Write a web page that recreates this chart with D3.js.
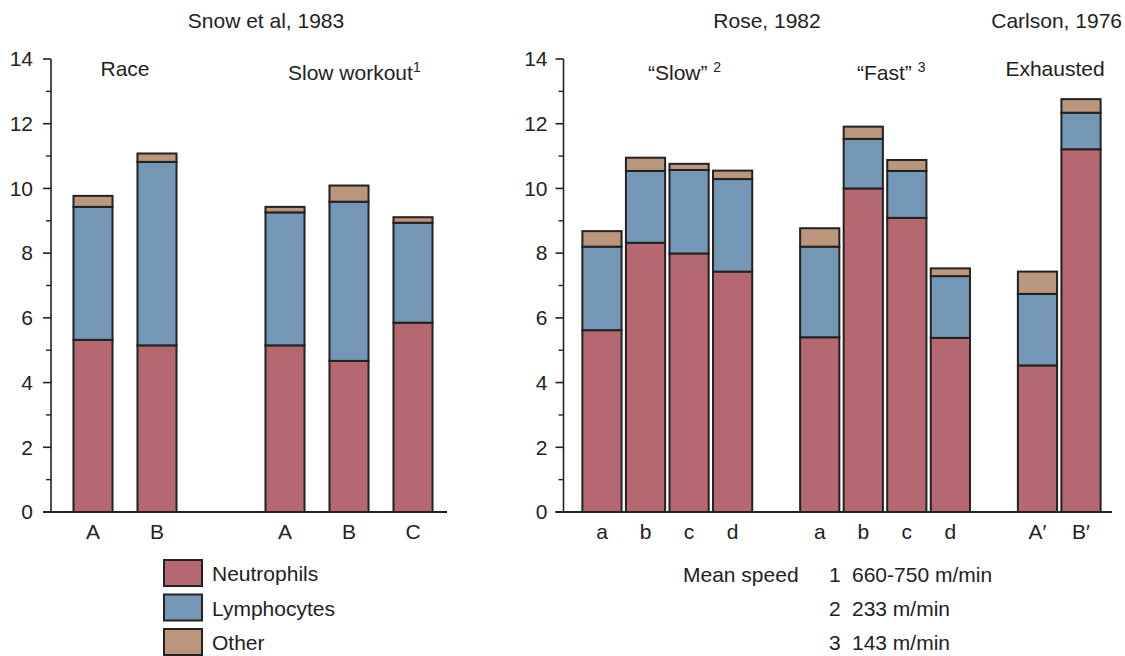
<!DOCTYPE html>
<html>
<head>
<meta charset="utf-8">
<script src="https://cdn.jsdelivr.net/npm/d3@7"></script>
<style>
  html, body { margin: 0; padding: 0; background: #fff; }
  svg { display: block; font-family: "Liberation Sans", Arial, Helvetica, sans-serif; }
</style>
</head>
<body>
<svg id="chart" width="1125" height="656"></svg>
<script>
// Leukocyte counts (x10^3 / µL) split by cell type
const seriesKeys = ["Neutrophils", "Lymphocytes", "Other"];
const seriesColors = ["#b66870", "#7497b6", "#ba967c"];

// Snow et al, 1983
const leftCategories = ["Race A", "Race B", "gap", "Slow A", "Slow B", "Slow C"];
const leftTickLabels = ["A", "B", "", "A", "B", "C"];
const leftNeutrophils = [5.32, 5.15, null, 5.15, 4.67, 5.85];
const leftLymphocytes = [4.11, 5.67, null, 4.11, 4.92, 3.09];
const leftOther       = [0.34, 0.26, null, 0.17, 0.50, 0.17];

// Rose, 1982 and Carlson, 1976
const rightCategories = ["S a", "S b", "S c", "S d", "gap1", "F a", "F b", "F c", "F d", "gap2", "E A", "E B"];
const rightTickLabels = ["a", "b", "c", "d", "", "a", "b", "c", "d", "", "A\u2032", "B\u2032"];
const rightNeutrophils = [5.62, 8.32, 7.99, 7.43, null, 5.40, 10.00, 9.09, 5.38, null, 4.53, 11.21];
const rightLymphocytes = [2.58, 2.22, 2.58, 2.86, null, 2.80, 1.53, 1.45, 1.91, null, 2.21, 1.13];
const rightOther       = [0.48, 0.41, 0.19, 0.26, null, 0.57, 0.38, 0.34, 0.24, null, 0.69, 0.42];

const yTicks = [0, 2, 4, 6, 8, 10, 12, 14];
const yMinorTicks = [1, 3, 5, 7, 9, 11, 13];

const svg = d3.select("#chart");
const ink = "#222";
const fontSize = 21;

const y = d3.scaleLinear().domain([0, 14]).range([512, 59]);
const color = d3.scaleOrdinal().domain(seriesKeys).range(seriesColors);

function buildRows(cats, n, l, o) {
  return cats.map((c, i) => ({ key: c, Neutrophils: n[i], Lymphocytes: l[i], Other: o[i] }))
             .filter(r => r.Neutrophils != null);
}

function panel(opts) {
  const g = svg.append("g");
  const x = d3.scaleBand()
    .domain(opts.categories)
    .range(opts.range)
    .paddingInner(opts.padding)
    .paddingOuter(opts.padding / 2);

  const rows = buildRows(opts.categories, opts.n, opts.l, opts.o);
  const stacked = d3.stack().keys(seriesKeys)(rows);

  // stacked bars
  stacked.forEach(layer => {
    g.append("g")
      .selectAll("rect")
      .data(layer)
      .join("rect")
      .attr("x", d => x(d.data.key))
      .attr("width", x.bandwidth())
      .attr("y", d => y(d[1]))
      .attr("height", d => y(d[0]) - y(d[1]))
      .attr("fill", color(layer.key))
      .attr("stroke", ink)
      .attr("stroke-width", 2);
  });

  // y axis with major and minor ticks
  const yAxis = g.append("g").attr("transform", `translate(${opts.axisX},0)`);
  yAxis.append("line")
    .attr("y1", y(0)).attr("y2", y(14))
    .attr("stroke", ink).attr("stroke-width", 1.6);
  yAxis.selectAll(".major").data(yTicks).join("line")
    .attr("x1", -8).attr("x2", 0)
    .attr("y1", d => y(d)).attr("y2", d => y(d))
    .attr("stroke", ink).attr("stroke-width", 1.6);
  yAxis.selectAll(".minor").data(yMinorTicks).join("line")
    .attr("x1", -5).attr("x2", 0)
    .attr("y1", d => y(d)).attr("y2", d => y(d))
    .attr("stroke", ink).attr("stroke-width", 1.4);
  yAxis.selectAll("text").data(yTicks).join("text")
    .attr("x", opts.labelOffset)
    .attr("y", d => y(d))
    .attr("dy", "0.35em")
    .attr("text-anchor", "end")
    .attr("font-size", fontSize)
    .attr("fill", ink)
    .text(d => d);

  // baseline
  g.append("line")
    .attr("x1", opts.axisX - 8).attr("x2", opts.baseEnd)
    .attr("y1", y(0)).attr("y2", y(0))
    .attr("stroke", ink).attr("stroke-width", 2.2);

  // category labels
  g.selectAll(".cat").data(opts.categories.map((c, i) => ({ c, t: opts.tickLabels[i] })).filter(d => d.t))
    .join("text")
    .attr("x", d => x(d.c) + x.bandwidth() / 2)
    .attr("y", 539)
    .attr("text-anchor", "middle")
    .attr("font-size", fontSize)
    .attr("fill", ink)
    .text(d => d.t);
  return g;
}

panel({
  categories: leftCategories, tickLabels: leftTickLabels,
  n: leftNeutrophils, l: leftLymphocytes, o: leftOther,
  range: [61, 445], padding: 0.39, axisX: 51, labelOffset: -18, baseEnd: 447
});

panel({
  categories: rightCategories, tickLabels: rightTickLabels,
  n: rightNeutrophils, l: rightLymphocytes, o: rightOther,
  range: [580.2, 1102.8], padding: 0.1, axisX: 563.5, labelOffset: -16, baseEnd: 1112
});

// titles and group labels
const textItems = [
  { t: "Snow et al, 1983", x: 266, y: 28, a: "middle" },
  { t: "Rose, 1982", x: 767, y: 28, a: "middle" },
  { t: "Carlson, 1976", x: 1122, y: 28, a: "end" },
  { t: "Race", x: 125, y: 76, a: "middle" },
  { t: "Exhausted", x: 1055, y: 76, a: "middle" }
];
svg.selectAll(".title").data(textItems).join("text")
  .attr("x", d => d.x).attr("y", d => d.y)
  .attr("text-anchor", d => d.a)
  .attr("font-size", fontSize)
  .attr("fill", ink)
  .text(d => d.t);

// labels carrying superscript note markers
const supItems = [
  { t: "Slow workout", s: "1", x: 288, y: 80, gap: "" },
  { t: "\u201cSlow\u201d", s: "2", x: 648, y: 80, gap: " " },
  { t: "\u201cFast\u201d", s: "3", x: 857, y: 80, gap: " " }
];
supItems.forEach(d => {
  const txt = svg.append("text")
    .attr("x", d.x).attr("y", d.y)
    .attr("font-size", fontSize).attr("fill", ink)
    .text(d.t + d.gap);
  txt.append("tspan").attr("font-size", 14).attr("dy", -8).text(d.s);
});

// legend for cell types
const legend = svg.append("g");
seriesKeys.forEach((k, i) => {
  const yy = 560 + i * 34.5;
  legend.append("rect")
    .attr("x", 164).attr("y", yy)
    .attr("width", 38).attr("height", 26)
    .attr("fill", color(k)).attr("stroke", ink).attr("stroke-width", 2);
  legend.append("text")
    .attr("x", 212).attr("y", yy + 14).attr("dy", "0.35em")
    .attr("font-size", fontSize).attr("fill", ink)
    .text(k);
});

// speed notes
const noteNums = ["1", "2", "3"];
const noteTexts = ["660-750 m/min", "233 m/min", "143 m/min"];
svg.append("text").attr("x", 683).attr("y", 575).attr("dy", "0.35em")
  .attr("font-size", fontSize).attr("fill", ink).text("Mean speed");
noteNums.forEach((n, i) => {
  const yy = 575 + i * 34;
  svg.append("text").attr("x", 829).attr("y", yy).attr("dy", "0.35em")
    .attr("font-size", fontSize).attr("fill", ink).text(n);
  svg.append("text").attr("x", 852).attr("y", yy).attr("dy", "0.35em")
    .attr("font-size", fontSize).attr("fill", ink).text(noteTexts[i]);
});
</script>
</body>
</html>
